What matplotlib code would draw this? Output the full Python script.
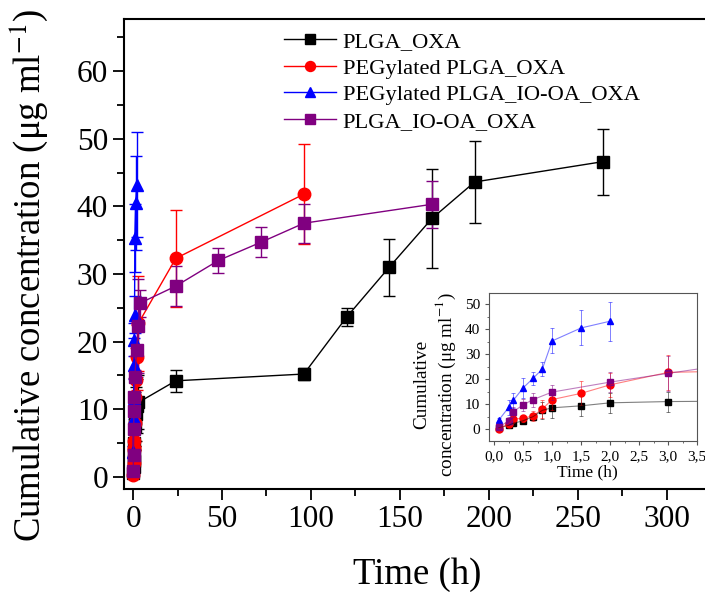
import numpy as np
import matplotlib
matplotlib.use("Agg")
import matplotlib.pyplot as plt

plt.rcParams['font.family'] = ['Liberation Serif', 'DejaVu Serif']
plt.rcParams['mathtext.fontset'] = 'stix'

# release data (time in h, concentration in ug/ml)
t_plga = [0.083, 0.25, 0.33, 0.5, 0.67, 0.83, 1, 1.5, 2, 3, 24, 96, 120, 144, 168, 192, 264]
c_plga = [0.5, 1.5, 2.3, 3.3, 5.0, 7.5, 8.5, 9.3, 10.5, 11.0, 14.2, 15.2, 23.6, 31.0, 38.2, 43.6, 46.6]
e_plga = [0.5, 0.8, 1.0, 1.0, 1.5, 3.5, 4.0, 4.0, 4.0, 4.0, 1.6, 0.9, 1.3, 4.2, 7.3, 6.0, 4.9]

t_peg = [0.083, 0.25, 0.33, 0.5, 0.67, 0.83, 1, 1.5, 2, 3, 24, 96]
c_peg = [0.2, 2.0, 4.0, 4.3, 5.3, 8.0, 11.8, 14.3, 17.7, 22.7, 32.3, 41.8]
e_peg = [0.3, 1.0, 1.2, 1.5, 2.0, 3.5, 4.0, 4.8, 4.8, 7.0, 7.2, 7.4]

t_pegio = [0.083, 0.25, 0.33, 0.5, 0.67, 0.83, 1, 1.5, 2]
c_pegio = [3.7, 8.7, 11.5, 16.5, 20.3, 24.0, 35.3, 40.5, 43.2]
e_pegio = [0.8, 3.0, 3.0, 4.0, 2.5, 2.8, 5.0, 7.0, 7.8]

t_io = [0.083, 0.25, 0.33, 0.5, 0.67, 1, 2, 3, 4, 24, 48, 72, 96, 168]
c_io = [0.8, 3.3, 7.0, 9.7, 11.8, 14.8, 18.8, 22.3, 25.7, 28.2, 32.0, 34.7, 37.5, 40.3]
e_io = [0.5, 1.5, 2.0, 2.5, 2.8, 3.0, 4.0, 7.0, 2.0, 3.0, 1.8, 2.2, 2.9, 3.5]

series = [
    ("PLGA_OXA", t_plga, c_plga, e_plga, "black", "s"),
    ("PEGylated PLGA_OXA", t_peg, c_peg, e_peg, "red", "o"),
    ("PEGylated PLGA_IO-OA_OXA", t_pegio, c_pegio, e_pegio, "blue", "^"),
    ("PLGA_IO-OA_OXA", t_io, c_io, e_io, "purple", "s"),
]

fig = plt.figure(figsize=(7.05, 5.92), dpi=100)
ax = fig.add_axes([124 / 705, 1 - 489 / 592, 1 - 124 / 705, (489 - 19) / 592])

handles = []
for name, t, c, e, col, m in series:
    eb = ax.errorbar(t, c, yerr=e, color=col, marker=m, markersize=9, lw=1,
                     elinewidth=1, capsize=4.5, capthick=1, label=name)
    handles.append(eb[0])  # line + marker only for the legend

ax.set_xlim(-5.1, 321.5)
ax.set_ylim(-1.8, 67.7)
ax.set_xticks([0, 50, 100, 150, 200, 250, 300])
ax.set_xticks([25, 75, 125, 175, 225, 275], minor=True)
ax.set_yticks([0, 10, 20, 30, 40, 50, 60])
ax.set_yticks([5, 15, 25, 35, 45, 55, 65], minor=True)
ax.tick_params(axis='both', which='major', labelsize=22.5, length=8, width=1.3)
ax.tick_params(axis='both', which='minor', length=5, width=1.3)
ax.spines['right'].set_visible(False)
for s in ['left', 'bottom', 'top']:
    ax.spines[s].set_linewidth(1.5)
ax.set_xlabel("Time (h)", fontsize=26.5)
ax.set_ylabel("Cumulative concentration (\u03bcg ml$^{-1}$)", fontsize=26.5)
ax.xaxis.set_label_coords(0.504, -0.145)
ax.yaxis.set_label_coords(-0.128, 0.455)

ax.legend(handles, [s[0] for s in series], loc='upper left',
          bbox_to_anchor=(264 / 705, 1 - 11 / 592),
          bbox_transform=fig.transFigure, frameon=False, fontsize=16.2,
          handlelength=2.3, handletextpad=0.3, labelspacing=0.26,
          markerscale=0.8)

# inset
ins = fig.add_axes([489 / 705, 1 - 441 / 592, 208 / 705, 148 / 592])
for name, t, c, e, col, m in series:
    ins.errorbar(t, c, yerr=e, color=col, lw=0.8, elinewidth=0.7,
                 capsize=1.5, capthick=0.7, alpha=0.5)
    ins.plot(t, c, ls='none', marker=m, markersize=5, color=col)
ins.set_xlim(-0.09, 3.5)
ins.set_ylim(-4.8, 54.5)
ins.set_xticks(np.arange(0, 3.51, 0.5))
ins.set_xticklabels(["0,0", "0,5", "1,0", "1,5", "2,0", "2,5", "3,0", "3,5"])
ins.set_xticks(np.arange(0.25, 3.5, 0.5), minor=True)
ins.set_yticks([0, 10, 20, 30, 40, 50])
ins.set_yticks([5, 15, 25, 35, 45], minor=True)
ins.tick_params(axis='both', which='major', labelsize=11, length=3, color='#555555')
ins.tick_params(axis='both', which='minor', length=1.5, color='#555555')
for s in ins.spines.values():
    s.set_color('#555555')
    s.set_linewidth(0.8)
ins.set_xlabel("Time (h)", fontsize=12.5)
ins.set_ylabel("Cumulative\nconcentration (\u03bcg ml$^{-1}$)", fontsize=13.8)
ins.xaxis.set_label_coords(0.471, -0.155)
ins.yaxis.set_label_coords(-0.15, 0.38)

fig.savefig("out.png", dpi=100)
